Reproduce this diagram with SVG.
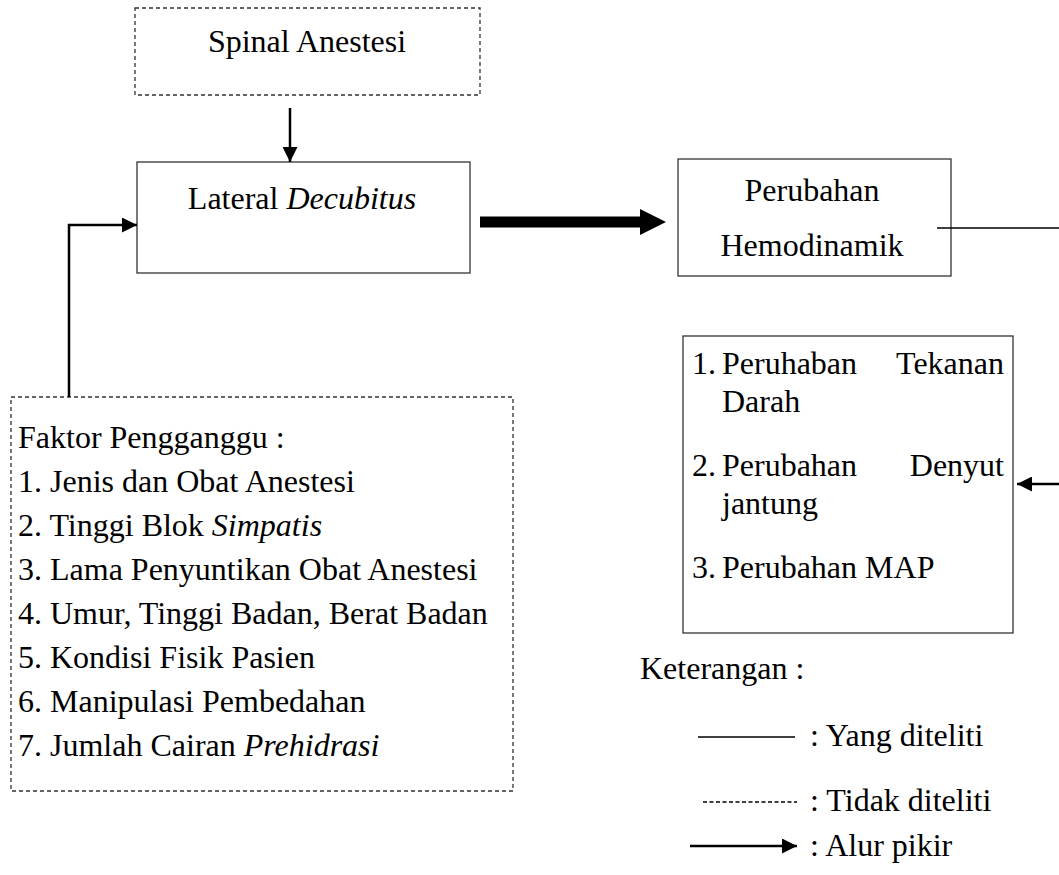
<svg xmlns="http://www.w3.org/2000/svg" width="1059" height="875" viewBox="0 0 1059 875">
<style>
text{font-family:"Liberation Serif","Times New Roman",serif;font-size:32px;fill:#000}
.it{font-style:italic}
.box{fill:#fff;stroke:#333;stroke-width:1.3}
.dbox{fill:none;stroke:#333;stroke-width:1.3;stroke-dasharray:4 3}
.ln{fill:none;stroke:#000;stroke-width:2.5}
.thin{fill:none;stroke:#000;stroke-width:1.3}
</style>
<defs>
<marker id="ah" viewBox="0 0 10 10" refX="10" refY="5" markerWidth="6" markerHeight="6" markerUnits="strokeWidth" orient="auto"><path d="M0,0 L10,5 L0,10 z" fill="#000"/></marker>
</defs>
<rect width="1059" height="875" fill="#fff"/>
<g id="spinal"><rect class="dbox" x="135" y="8" width="345" height="87"/><text x="307" y="52" text-anchor="middle">Spinal Anestesi</text></g>
<g id="lateral"><rect class="box" x="137" y="162" width="333" height="111"/><text x="302" y="209" text-anchor="middle">Lateral <tspan class="it">Decubitus</tspan></text></g>
<g id="perubahan"><rect class="box" x="678" y="159" width="273" height="117"/><text x="812" y="201" text-anchor="middle">Perubahan</text><text x="812" y="256" text-anchor="middle">Hemodinamik</text></g>
<g id="list"><rect class="box" x="683" y="336" width="330" height="297"/>
<text x="692" y="374">1.</text><text x="722" y="374">Peruhaban</text><text x="1004" y="374" text-anchor="end">Tekanan</text>
<text x="722" y="412">Darah</text>
<text x="692" y="476">2.</text><text x="722" y="476">Perubahan</text><text x="1004" y="476" text-anchor="end">Denyut</text>
<text x="722" y="514">jantung</text>
<text x="692" y="578">3.</text><text x="722" y="578">Perubahan MAP</text>
</g>
<g id="faktor"><rect class="dbox" x="11" y="397" width="502" height="394"/>
<text x="18" y="448">Faktor Pengganggu :</text>
<text x="18" y="492">1. Jenis dan Obat Anestesi</text>
<text x="18" y="536">2. Tinggi Blok <tspan class="it">Simpatis</tspan></text>
<text x="18" y="580">3. Lama Penyuntikan Obat Anestesi</text>
<text x="18" y="624">4. Umur, Tinggi Badan, Berat Badan</text>
<text x="18" y="668">5. Kondisi Fisik Pasien</text>
<text x="18" y="712">6. Manipulasi Pembedahan</text>
<text x="18" y="756">7. Jumlah Cairan <tspan class="it">Prehidrasi</tspan></text>
</g>
<g id="legend">
<text x="640" y="679">Keterangan :</text>
<line class="thin" x1="698" y1="737" x2="795" y2="737"/><text x="810" y="746">: Yang diteliti</text>
<line class="thin" x1="703" y1="802" x2="797" y2="802" stroke-dasharray="4 2.5"/><text x="810" y="811">: Tidak diteliti</text>
<line class="ln" x1="690" y1="846" x2="797" y2="846" marker-end="url(#ah)"/><text x="810" y="856">: Alur pikir</text>
</g>
<g id="connectors">
<line class="ln" x1="290" y1="108" x2="290" y2="162" marker-end="url(#ah)"/>
<polyline class="ln" points="69,397 69,225 137,225" marker-end="url(#ah)"/>
<line x1="480" y1="222" x2="642" y2="222" stroke="#000" stroke-width="11"/>
<path d="M640,209 L666,222 L640,235 z" fill="#000"/>
<line class="thin" x1="937" y1="228" x2="1059" y2="228" stroke-width="2"/>
<line class="ln" x1="1059" y1="484" x2="1017" y2="484" stroke-width="2" marker-end="url(#ah)"/>
</g>
</svg>
